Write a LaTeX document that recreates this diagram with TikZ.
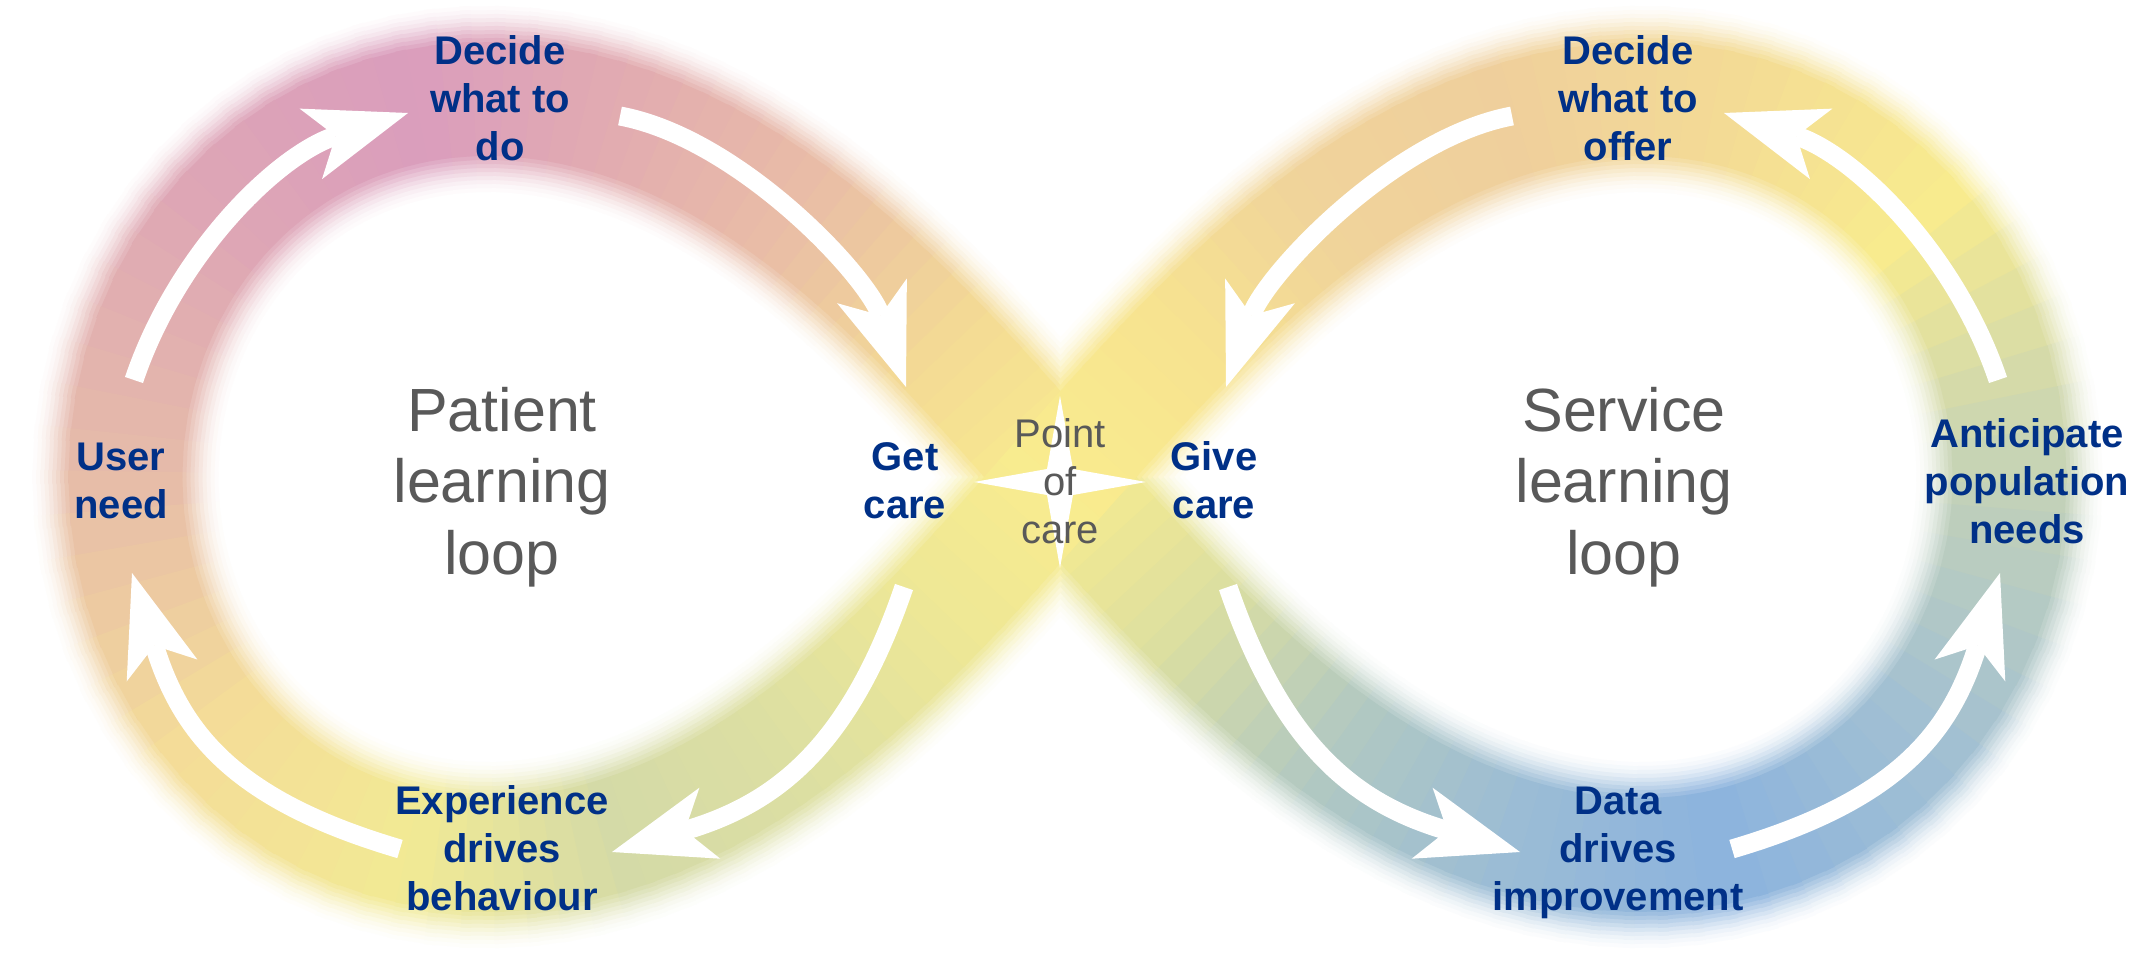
\documentclass[tikz,border=0pt]{standalone}
\usepackage{fontspec}
\setmainfont{Liberation Sans}
\usetikzlibrary{arrows.meta}
\definecolor{K0}{HTML}{C4D2B7}
\definecolor{K1}{HTML}{A2C0D2}
\definecolor{K2}{HTML}{8CB3DE}
\definecolor{K3}{HTML}{9BBCD5}
\definecolor{K4}{HTML}{B2C9C1}
\definecolor{K5}{HTML}{DCDFA0}
\definecolor{K6}{HTML}{F9EC8E}
\definecolor{K7}{HTML}{F3D995}
\definecolor{K8}{HTML}{E9BDA6}
\definecolor{K9}{HTML}{E2ACB0}
\definecolor{K10}{HTML}{DA9DBD}
\definecolor{K11}{HTML}{DEA6B5}
\definecolor{K12}{HTML}{E6BBA9}
\definecolor{K13}{HTML}{F4DC98}
\definecolor{K14}{HTML}{F2EA94}
\definecolor{K15}{HTML}{D4DAA7}
\definecolor{K16}{HTML}{DDDFA2}
\definecolor{K17}{HTML}{EDE796}
\definecolor{K18}{HTML}{F9EC8E}
\definecolor{K19}{HTML}{F7E390}
\definecolor{K20}{HTML}{F0D39B}
\definecolor{K21}{HTML}{EFCF9C}
\definecolor{K22}{HTML}{F3DA96}
\definecolor{K23}{HTML}{F8EB8E}
\definecolor{K24}{HTML}{C4D2B7}
\definecolor{txtblue}{HTML}{003087}
\definecolor{txtgray}{HTML}{595959}
% figure-eight centre line (pixel frame, y downwards)
\pgfmathdeclarefunction{lemx}{1}{\pgfmathparse{1060+ifthenelse(cos(#1)<0,935,950)*cos(#1)/(1+sin(#1)*sin(#1))}}
\pgfmathdeclarefunction{lemy}{1}{\pgfmathparse{477+1070*sin(#1)*cos(#1)/(1+sin(#1)*sin(#1))}}
% tangent direction (scaled)
\pgfmathdeclarefunction{lemu}{1}{\pgfmathparse{-1*ifthenelse(cos(#1)<0,0.935,0.95)*sin(#1)*(3-sin(#1)*sin(#1))}}
\pgfmathdeclarefunction{lemv}{1}{\pgfmathparse{1.07*(cos(2*#1)*(1+sin(#1)*sin(#1))-2*sin(#1)*sin(#1)*cos(#1)*cos(#1))}}
\begin{document}
\begin{tikzpicture}[x=1pt,y=-1pt,
  lbl/.style={text=txtblue, font=\fontsize{40}{48}\selectfont\bfseries, align=center, inner sep=0pt, anchor=base},
  big/.style={text=txtgray, font=\fontsize{61}{71.5}\selectfont, align=center, inner sep=0pt, anchor=base},
  poc/.style={text=txtgray, font=\fontsize{40}{48}\selectfont, align=center, inner sep=0pt, anchor=base},
  arr/.style={white, line width=19pt, -{Stealth[length=102pt,width=74pt,inset=26pt,line width=0pt]}}]
\fill[white] (0,0) rectangle (2146,966);
\useasboundingbox (0,0) rectangle (2146,966);
% blurred gradient figure-eight band, drawn as strips of quads, light wide layers first
\foreach \h/\f in {93/4,89/9,85/16,81/25,77/36,73/48,69/61,65/74,61/87,57/100}{
  \foreach \i in {0,...,179}{
    \pgfmathsetmacro{\ta}{2*\i-0.3}
    \pgfmathsetmacro{\tb}{2*\i+2.3}
    \pgfmathtruncatemacro{\k}{floor(\i*2/15)}
    \pgfmathtruncatemacro{\kk}{\k+1}
    \pgfmathsetmacro{\p}{(2*\i+1-15*\k)/15*100}
    \colorlet{segc}{K\kk!\p!K\k}
    \pgfmathsetmacro{\xa}{lemx(\ta)}
    \pgfmathsetmacro{\ya}{lemy(\ta)}
    \pgfmathsetmacro{\ua}{lemu(\ta)}
    \pgfmathsetmacro{\va}{lemv(\ta)}
    \pgfmathsetmacro{\la}{veclen(\ua,\va)}
    \pgfmathsetmacro{\nxa}{-1*(\va)/\la}
    \pgfmathsetmacro{\nya}{(\ua)/\la}
    \pgfmathsetmacro{\xb}{lemx(\tb)}
    \pgfmathsetmacro{\yb}{lemy(\tb)}
    \pgfmathsetmacro{\ub}{lemu(\tb)}
    \pgfmathsetmacro{\vb}{lemv(\tb)}
    \pgfmathsetmacro{\lb}{veclen(\ub,\vb)}
    \pgfmathsetmacro{\nxb}{-1*(\vb)/\lb}
    \pgfmathsetmacro{\nyb}{(\ub)/\lb}
    \fill[color=segc!\f!white]
      ({\xa+\h*\nxa},{\ya+\h*\nya}) -- ({\xb+\h*\nxb},{\yb+\h*\nyb})
      -- ({\xb-\h*\nxb},{\yb-\h*\nyb}) -- ({\xa-\h*\nxa},{\ya-\h*\nya}) -- cycle;
  }
}
% point of care star
\fill[white] (1146,482) -- (1073,469) -- (1060,396) -- (1047,469) -- (974,482)
  -- (1047,495) -- (1060,568) -- (1073,495) -- cycle;
% arrow end points
\coordinate (a1s) at (134,380);  \coordinate (a1e) at (408,113);
\coordinate (a2s) at (620,116);  \coordinate (a2e) at (906,387);
\coordinate (a3s) at (904,587);  \coordinate (a3e) at (612,852);
\coordinate (a4s) at (400,849);  \coordinate (a4e) at (132,573);
\coordinate (a5s) at (1512,116); \coordinate (a5e) at (1226,387);
\coordinate (a6s) at (1998,380); \coordinate (a6e) at (1724,113);
\coordinate (a7s) at (1228,587); \coordinate (a7e) at (1520,852);
\coordinate (a8s) at (1732,849); \coordinate (a8e) at (2000,573);
\draw[arr] (a1s) .. controls (177,252) and (279,154) .. (a1e);
\draw[arr] (a2s) .. controls (738,138) and (866,274) .. (a2e);
\draw[arr] (a3s) .. controls (849,748) and (775,804) .. (a3e);
\draw[arr] (a4s) .. controls (237,801) and (182,735) .. (a4e);
\draw[arr] (a5s) .. controls (1394,138) and (1266,274) .. (a5e);
\draw[arr] (a6s) .. controls (1955,252) and (1853,154) .. (a6e);
\draw[arr] (a7s) .. controls (1283,748) and (1357,804) .. (a7e);
\draw[arr] (a8s) .. controls (1895,801) and (1950,735) .. (a8e);
% labels (anchor = baseline of the last line)
\node[lbl] (dwd) at (500,160) {Decide\\what to\\do};
\node[lbl] (get) at (905,518) {Get\\care};
\node[lbl] (give) at (1214,518) {Give\\care};
\node[lbl] (user) at (121,518) {User\\need};
\node[lbl] (exp) at (502,910) {Experience\\drives\\behaviour};
\node[lbl] (dwo) at (1628,160) {Decide\\what to\\offer};
\node[lbl] (ant) at (2027,543) {Anticipate\\population\\needs};
\node[lbl] (data) at (1618,910) {Data\\drives\\improvement};
\node[big] (pll) at (502,574) {Patient\\learning\\loop};
\node[big] (sll) at (1624,574) {Service\\learning\\loop};
\node[poc] (poc) at (1060,543) {Point\\of\\care};
\end{tikzpicture}
\end{document}
